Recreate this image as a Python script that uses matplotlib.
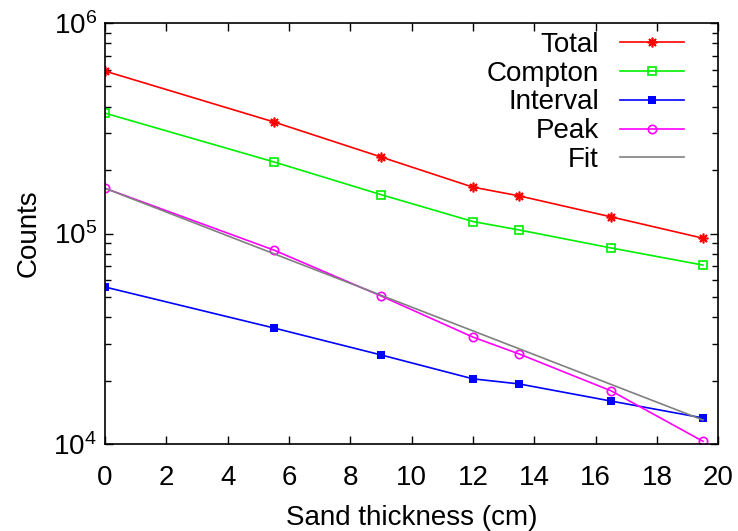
import matplotlib
matplotlib.use("Agg")
import matplotlib.pyplot as plt
import numpy as np

plt.rcParams['font.family'] = ['Liberation Sans', 'DejaVu Sans']
plt.rcParams['mathtext.fontset'] = 'custom'
plt.rcParams['mathtext.rm'] = 'Liberation Sans'

# sand thickness (cm)
thickness = [0, 5.5, 9, 12, 13.5, 16.5, 19.5]

total = [5.91e5, 3.39e5, 2.31e5, 1.66e5, 1.51e5, 1.20e5, 9.5e4]
compton = [3.73e5, 2.19e5, 1.53e5, 1.14e5, 1.04e5, 8.54e4, 7.08e4]
interval = [5.57e4, 3.56e4, 2.65e4, 2.04e4, 1.93e4, 1.60e4, 1.33e4]
peak = [1.64e5, 8.35e4, 5.05e4, 3.22e4, 2.68e4, 1.79e4, 1.03e4]

# fitted exponential, straight on log scale: end points
fit_x = [0, 19.5]
fit_y = [1.64e5, 1.30e4]

fs = 20

fig = plt.figure(figsize=(7.38, 5.31), dpi=100)
ax = fig.add_axes([0.1423, 0.1638, 0.9733 - 0.1423, 0.9567 - 0.1638])

lw = 1.2
ax.plot(thickness, total, color='#ff0000', lw=lw, marker=(8, 2, 0), ms=7,
        mew=1.2, label='Total')
ax.plot(thickness, compton, color='#00f000', lw=lw, marker='s', ms=6,
        mfc='none', mew=1.2, label='Compton')
ax.plot(thickness, interval, color='#0000ff', lw=lw, marker='s', ms=6,
        mew=0, label='Interval')
ax.plot(thickness, peak, color='#ff00ff', lw=lw, marker='o', ms=6,
        mfc='none', mew=1.2, label='Peak')
ax.plot(fit_x, fit_y, color='#808080', lw=lw, label='Fit')

ax.set_yscale('log')
ax.set_xlim(0, 20)
ax.set_ylim(1e4, 1e6)
ax.set_xticks(np.arange(0, 21, 2))
ax.set_yticks([1e4, 1e5, 1e6])
ax.set_yticklabels([r'$\mathdefault{10^{4}}$', r'$\mathdefault{10^{5}}$',
                    r'$\mathdefault{10^{6}}$'])

ax.tick_params(which='both', direction='in', top=True, right=True,
               labelsize=fs)
ax.tick_params(which='major', length=6, width=1)
ax.tick_params(which='minor', length=4, width=1)
ax.tick_params(axis='x', pad=15)
ax.tick_params(axis='y', pad=6)
for s in ax.spines.values():
    s.set_linewidth(1.2)

ax.set_xlabel('Sand thickness (cm)', fontsize=fs, labelpad=10)
ax.set_ylabel('Counts', fontsize=fs, labelpad=8)

leg = ax.legend(loc='upper right', bbox_to_anchor=(0.975, 1.025),
                markerfirst=False, frameon=False, fontsize=fs,
                handlelength=2.3, handletextpad=0.75, labelspacing=0.1,
                borderaxespad=0.3)

fig.savefig('out.png', dpi=100)
